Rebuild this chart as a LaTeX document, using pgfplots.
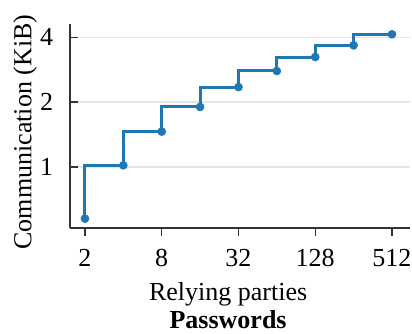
\documentclass[border=0pt]{standalone}
\usepackage{pgfplots}
\pgfplotsset{compat=1.18}
\usepackage{fontspec}
\setmainfont{Liberation Serif}
\definecolor{c1}{HTML}{1F77B4}
\begin{document}
\fontsize{26}{30}\selectfont
\begin{tikzpicture}
\begin{axis}[
 at={(0,0)}, anchor=south west,
 scale only axis, width=340pt, height=204pt,
 xmode=log, ymode=log, log basis x=2, log basis y=2,
 xmin=1.527, xmax=709, ymin=0.521, ymax=4.61,
 xtick={2,8,32,128,512}, xticklabels={2,8,32,128,512},
 ytick={1,2,4}, yticklabels={1,2,4},
 xminorticks=false, yminorticks=false,
 axis x line*=bottom, axis y line*=left,
 axis line style={black!80, line width=1.3pt, -},
 every tick/.style={black!80, line width=1.3pt},
 xtick align=outside, ytick align=inside,
 major tick length=8pt,
 ymajorgrids, grid style={black!10, line width=1.3pt},
 tick label style={font=\fontsize{26}{30}\selectfont},
 xticklabel style={yshift=-4pt},
 yticklabel style={xshift=-8pt},
 label style={font=\fontsize{26}{26}\selectfont},
 xlabel={Relying parties\\[2pt]\textbf{Passwords}},
 xlabel style={align=center, at={(axis description cs:0.465,0)}, anchor=north, inner sep=0pt, yshift=-54pt},
 ylabel={Communication (KiB)},
 ylabel style={at={(axis description cs:-0.097,0.47)}, anchor=south, inner sep=0pt},
 clip=false,
]
\addplot[c1, line width=3pt, const plot mark right, mark=*, mark size=4pt, mark options={solid, line width=0.6pt}] coordinates {
(2,0.576) (4,1.018) (8,1.46) (16,1.90) (32,2.35) (64,2.79) (128,3.24) (256,3.67) (512,4.13)
};
\end{axis}
\pgfresetboundingbox
\useasboundingbox (-70pt,-105pt) rectangle (342pt,228pt);
\end{tikzpicture}
\end{document}
